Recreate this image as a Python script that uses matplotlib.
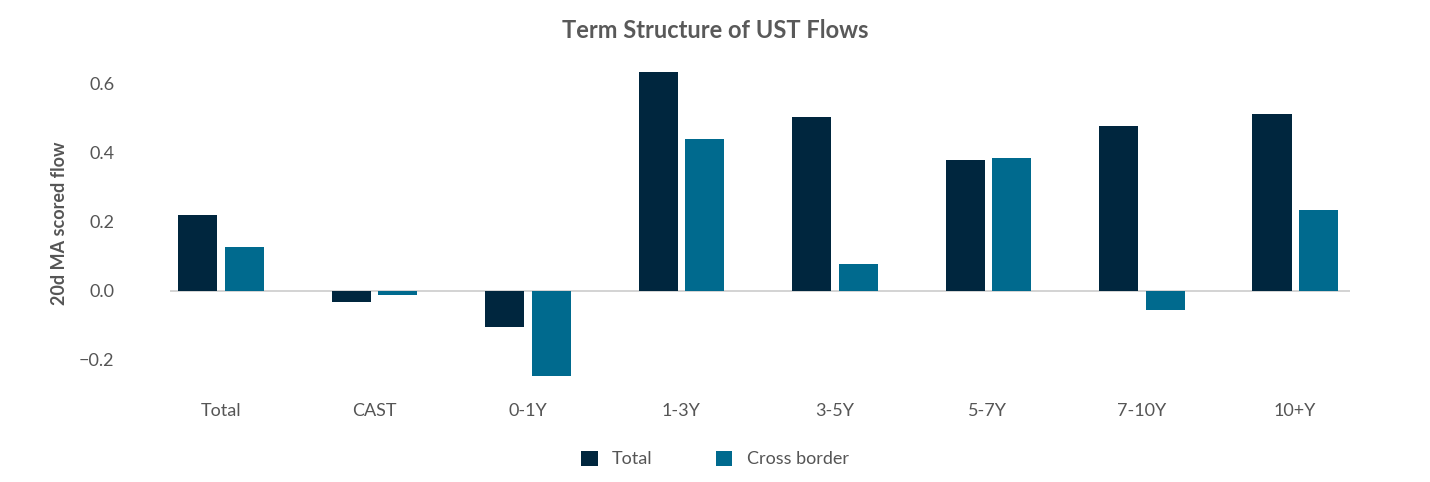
import matplotlib
matplotlib.use("Agg")
import matplotlib.pyplot as plt
import numpy as np

plt.rcParams["font.family"] = "Lato"

categories = ["Total", "CAST", "0-1Y", "1-3Y", "3-5Y", "5-7Y", "7-10Y", "10+Y"]
total = [0.22, -0.032, -0.104, 0.635, 0.503, 0.38, 0.477, 0.512]
cross_border = [0.127, -0.012, -0.246, 0.44, 0.078, 0.386, -0.055, 0.235]
yticks = [-0.2, 0.0, 0.2, 0.4, 0.6]
ytick_labels = ["\u22120.2", "0.0", "0.2", "0.4", "0.6"]

fig = plt.figure(figsize=(14.3, 4.82), dpi=100)
ax = fig.add_axes([170/1430, 1-384/482, 1180/1430, (384-63)/482])
x = np.arange(len(categories))
w = 0.255
ax.bar(x - 0.148, total, w, color="#00263E", label="Total")
ax.bar(x + 0.155, cross_border, w, color="#006A8E", label="Cross border")
ax.set_xlim(-0.33, 7.36)
ax.set_ylim(-0.27, 0.66)
ax.axhline(0, color="#CCCCCC", lw=1.2, zorder=0)
for s in ax.spines.values():
    s.set_visible(False)
ax.set_yticks(yticks)
ax.set_yticklabels(ytick_labels)
ax.set_xticks(x)
ax.set_xticklabels(categories)
ax.tick_params(length=0, labelsize=13, colors="#555555")
ax.tick_params(axis="x", pad=14)
ax.tick_params(axis="y", pad=40)
ax.set_ylabel("20d MA scored flow", fontsize=13, fontweight="bold", color="#555555", labelpad=8)
fig.text(0.5, 1-31/482, "Term Structure of UST Flows", ha="center", va="center",
         fontsize=17, fontweight="bold", color="#595959")
fig.legend(loc="center", bbox_to_anchor=(0.5, 1-459/482), ncol=2, frameon=False,
           fontsize=13, handlelength=0.9, handleheight=0.9, columnspacing=3.5,
           labelcolor="#555555")
fig.savefig("out.png", dpi=100)
